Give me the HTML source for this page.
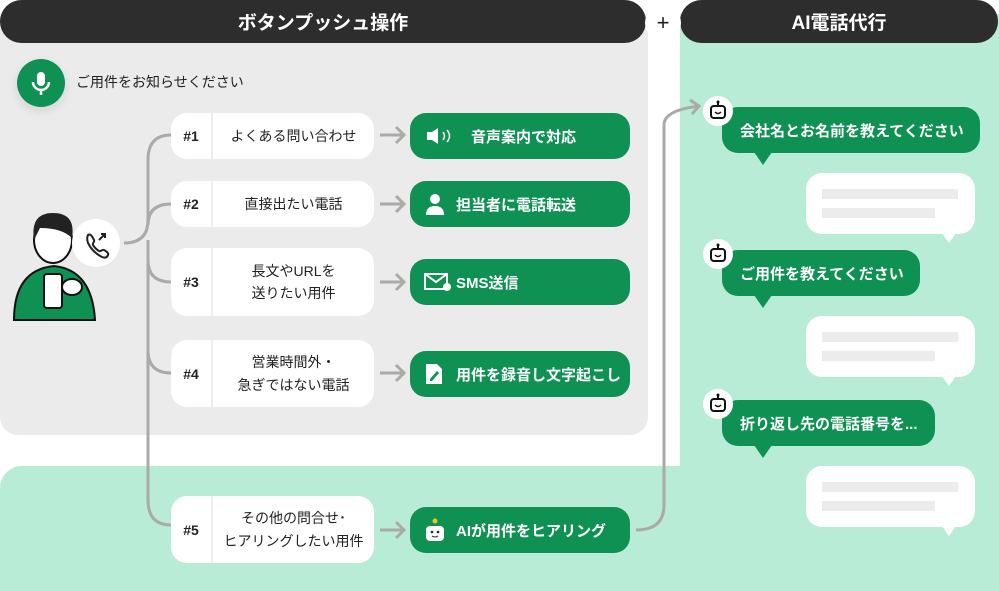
<!DOCTYPE html><html><head><meta charset="utf-8"><style>
body{margin:0;width:999px;height:591px;overflow:hidden;background:#fff;font-family:"Liberation Sans","Noto Sans CJK JP",sans-serif;position:relative}
.a{position:absolute}
.hd{background:#2d2d2d;color:#fff;font-weight:bold;font-size:19px;display:flex;align-items:center;justify-content:center;border-radius:0 0 22px 22px}
.box{position:absolute;left:171px;width:203px;background:#fff;border-radius:16px;display:flex;align-items:center;font-size:14px;color:#222}
.box .n{width:40px;text-align:center;font-weight:bold;border-right:2px solid #eee;align-self:stretch;display:flex;align-items:center;justify-content:center}
.box .t{flex:1;text-align:center;line-height:1.6}
.g{position:absolute;left:410px;width:220px;height:46px;background:#0e9153;border-radius:16px;color:#fff;font-weight:bold;font-size:15px;display:flex;align-items:center}
.g .i{width:32px;margin-left:14px;display:flex;align-items:center}
.b{position:absolute;left:722px;height:46px;background:#0e9153;border-radius:16px;color:#fff;font-weight:bold;font-size:15px;display:flex;align-items:center;padding-left:18px;box-sizing:border-box}
.tl{position:absolute;width:0;height:0;border-left:9px solid transparent;border-right:9px solid transparent;border-top:13px solid #0e9153}
.w{position:absolute;left:806px;width:169px;height:61px;background:#fff;border-radius:16px}
.w:before,.w:after{content:"";position:absolute;left:16px;height:10px;background:#ececec}
.w:before{top:16px;width:136px}.w:after{top:35px;width:113px}
.wt{position:absolute;width:0;height:0;border-left:7px solid transparent;border-right:7px solid transparent;border-top:10px solid #fff}
.bot{position:absolute;width:30px;height:30px;border-radius:50%;background:#fff}
.arr{stroke:#aaa;stroke-width:3;fill:none}
</style></head><body>
<div class="a" style="left:680px;top:14px;width:319px;height:577px;background:#b9ecd6"></div>
<div class="a" style="left:0;top:466px;width:999px;height:125px;background:#b9ecd6;border-radius:22px 0 0 0"></div>
<div class="a" style="left:0;top:14px;width:680px;height:452px;background:#fff;border-radius:0 0 22px 0"></div>
<div class="a" style="left:0;top:14px;width:648px;height:421px;background:#ebebeb;border-radius:0 0 18px 18px"></div>
<div class="a hd" style="left:0;top:0;width:646px;height:43px;border-radius:22px">ボタンプッシュ操作</div>
<div class="a hd" style="left:680px;top:0;width:318px;height:43px;border-radius:22px">AI電話代行</div>
<div class="a" style="left:645px;top:5px;width:36px;height:36px;border-radius:50%;background:#fff;text-align:center;line-height:35px;font-size:22px;color:#222">+</div>

<div class="a" style="left:17px;top:59px;width:48px;height:48px;border-radius:50%;background:#0e9153;box-shadow:0 4px 10px rgba(0,0,0,.1)"><svg width="48" height="48"><rect x="20" y="13" width="8" height="14" rx="4" fill="#fff"/><path d="M16 23a8 8 0 0 0 16 0M24 31v5" stroke="#fff" stroke-width="2.5" fill="none"/></svg></div>
<div class="a" style="left:76px;top:72px;font-size:14px;color:#222">ご用件をお知らせください</div>

<svg class="a" style="left:0;top:0" width="999" height="591">
<path class="arr" d="M124 243 Q148 243 148 220 L148 160 Q148 135 171 135 M148 225 Q148 204 171 204 M148 240 L148 500 Q148 525 171 525 M148 260 Q148 282 171 282 M148 350 Q148 373 171 373"/>
<g class="arr"><path d="M380 135h24M396 127l8 8-8 8M380 204h24M396 196l8 8-8 8M380 282h24M396 274l8 8-8 8M380 373h24M396 365l8 8-8 8M380 530h24M396 522l8 8-8 8"/>
<path d="M636 530 Q664 530 664 505 L664 125 Q664 110 700 106M690 100l9 6-7 8"/></g>
<path d="M14 320 Q14 270 54 266 Q92 270 95 320 Z" fill="#0e9153" stroke="#111" stroke-width="2"/>
<ellipse cx="53" cy="240" rx="19" ry="23" fill="#fff" stroke="#111" stroke-width="2"/>
<path d="M34 240 Q30 213 53 213 Q76 213 72 238 Q62 228 40 228 Z" fill="#222"/>
<rect x="44" y="274" width="18" height="34" rx="3" fill="#fff" stroke="#111" stroke-width="2"/>
<ellipse cx="72" cy="287" rx="10" ry="8" fill="#fff" stroke="#111" stroke-width="2"/>
</svg>
<div class="a" style="left:72px;top:219px;width:48px;height:48px;border-radius:50%;background:#fff"><svg width="48" height="48"><path d="M16 16c3-2 5 3 6 5 1 2-2 3-1 5s4 5 6 6 3-2 5-1 5 3 4 5c-1 3-4 3-6 2-6-3-11-8-14-14-1-3-1-6 0-8z" fill="none" stroke="#222" stroke-width="2"/><path d="M27 21l6-6M29 15h4v4" fill="none" stroke="#222" stroke-width="2"/></svg></div>

<div class="box" style="top:113px;height:46px"><div class="n">#1</div><div class="t">よくある問い合わせ</div></div>
<div class="box" style="top:181px;height:46px"><div class="n">#2</div><div class="t">直接出たい電話</div></div>
<div class="box" style="top:248px;height:68px"><div class="n">#3</div><div class="t">長文やURLを<br>送りたい用件</div></div>
<div class="box" style="top:340px;height:67px"><div class="n">#4</div><div class="t">営業時間外・<br>急ぎではない電話</div></div>
<div class="box" style="top:496px;height:67px"><div class="n">#5</div><div class="t">その他の問合せ･<br>ヒアリングしたい用件</div></div>

<div class="g" style="top:113px"><span class="i"><svg width="30" height="20"><path d="M3 6h5l6-4v16l-6-4H3z" fill="#fff"/><path d="M19 6q3 4 0 8M23 4q5 6 0 12" stroke="#fff" stroke-width="1.5" fill="none"/></svg></span>　音声案内で対応</div>
<div class="g" style="top:181px"><span class="i"><svg width="22" height="24"><circle cx="11" cy="7" r="5" fill="#fff"/><path d="M2 23q0-9 9-9t9 9z" fill="#fff"/></svg></span>担当者に電話転送</div>
<div class="g" style="top:259px"><span class="i"><svg width="28" height="20"><rect x="1" y="2" width="22" height="15" fill="none" stroke="#fff" stroke-width="2"/><path d="M1 2l11 8 11-8" stroke="#fff" stroke-width="2" fill="none"/><circle cx="23" cy="15" r="4" fill="#fff"/></svg></span>SMS送信</div>
<div class="g" style="top:351px"><span class="i"><svg width="20" height="24"><path d="M2 2h11l5 5v15H2z" fill="#fff"/><path d="M6 17l7-8 2 2-7 8H6z" fill="#0e9153"/></svg></span>用件を録音し文字起こし</div>
<div class="g" style="top:507px"><span class="i"><svg width="22" height="26"><circle cx="11" cy="4" r="2.5" fill="#f5c518"/><rect x="2" y="9" width="18" height="15" rx="4" fill="#fff"/><circle cx="8" cy="15" r="1.3" fill="#222"/><circle cx="14" cy="15" r="1.3" fill="#222"/><path d="M8 19q3 2 6 0" stroke="#222" fill="none"/></svg></span>AIが用件をヒアリング</div>

<div class="b" style="top:107px;width:258px">会社名とお名前を教えてください</div><div class="tl" style="left:754px;top:152px"></div>
<div class="w" style="top:173px"></div><div class="wt" style="left:942px;top:233px"></div>
<div class="b" style="top:250px;width:198px">ご用件を教えてください</div><div class="tl" style="left:754px;top:295px"></div>
<div class="w" style="top:316px"></div><div class="wt" style="left:942px;top:376px"></div>
<div class="b" style="top:400px;width:213px">折り返し先の電話番号を...</div><div class="tl" style="left:754px;top:445px"></div>
<div class="w" style="top:466px"></div><div class="wt" style="left:942px;top:526px"></div>
<div class="bot" style="left:703px;top:96px"><svg width="30" height="30"><path d="M15 6v4" stroke="#111" stroke-width="2"/><circle cx="15" cy="6" r="1.5" fill="#111"/><rect x="8" y="10" width="14" height="12" rx="3" fill="none" stroke="#111" stroke-width="2"/><path d="M12 16q3 3 6 0" stroke="#111" stroke-width="1.5" fill="none"/></svg></div>
<div class="bot" style="left:703px;top:239px"><svg width="30" height="30"><path d="M15 6v4" stroke="#111" stroke-width="2"/><circle cx="15" cy="6" r="1.5" fill="#111"/><rect x="8" y="10" width="14" height="12" rx="3" fill="none" stroke="#111" stroke-width="2"/><path d="M12 16q3 3 6 0" stroke="#111" stroke-width="1.5" fill="none"/></svg></div>
<div class="bot" style="left:703px;top:389px"><svg width="30" height="30"><path d="M15 6v4" stroke="#111" stroke-width="2"/><circle cx="15" cy="6" r="1.5" fill="#111"/><rect x="8" y="10" width="14" height="12" rx="3" fill="none" stroke="#111" stroke-width="2"/><path d="M12 16q3 3 6 0" stroke="#111" stroke-width="1.5" fill="none"/></svg></div>
</body></html>
